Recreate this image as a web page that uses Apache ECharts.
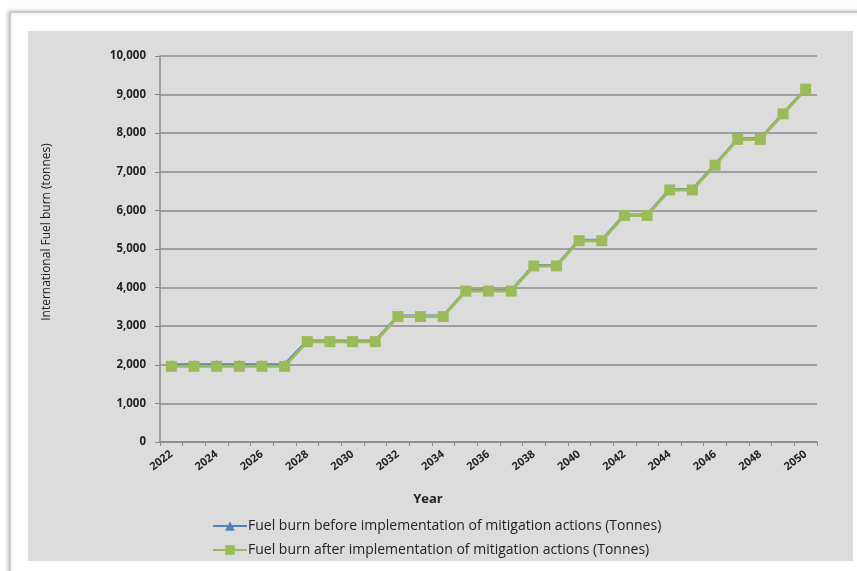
<!DOCTYPE html>
<html>
<head>
<meta charset="utf-8">
<script src="https://cdn.jsdelivr.net/npm/echarts@6/dist/echarts.min.js"></script>
<style>
  html, body { margin: 0; padding: 0; background: #ffffff; }
  #chart { width: 857px; height: 571px; }
</style>
</head>
<body>
<div id="chart"></div>
<script>
// Years on the category axis
const years = [
  '2022','2023','2024','2025','2026','2027','2028','2029','2030','2031',
  '2032','2033','2034','2035','2036','2037','2038','2039','2040','2041',
  '2042','2043','2044','2045','2046','2047','2048','2049','2050'
];

// Fuel burn (tonnes) before mitigation actions
const fuelBefore = [
  2010, 2010, 2010, 2010, 2010, 2010,
  2625, 2625, 2625, 2625,
  3270, 3270, 3270,
  3930, 3930, 3930,
  4580, 4580,
  5235, 5235,
  5890, 5890,
  6550, 6550,
  7190,
  7860, 7860,
  8515,
  9150
];

// Fuel burn (tonnes) after mitigation actions
const fuelAfter = [
  1960, 1960, 1960, 1960, 1960, 1960,
  2600, 2600, 2600, 2600,
  3250, 3250, 3250,
  3910, 3910, 3910,
  4560, 4560,
  5215, 5215,
  5870, 5870,
  6530, 6530,
  7170,
  7840, 7840,
  8500,
  9140
];

const seriesNames = [
  'Fuel burn before implementation of mitigation actions (Tonnes)',
  'Fuel burn after implementation of mitigation actions (Tonnes)'
];

const yTitle = 'International Fuel burn (tonnes)';
const xTitle = 'Year';

const FONT = '"Open Sans", "Noto Sans", sans-serif';
const LEGEND_FONT = '"Open Sans", "Noto Sans", sans-serif';

const chart = echarts.init(document.getElementById('chart'), null, { renderer: 'canvas' });

chart.setOption({
  backgroundColor: '#ffffff',
  animation: false,
  textStyle: { fontFamily: FONT },
  graphic: [
    {
      type: 'rect', z: -100, silent: true,
      shape: { x: 10, y: 12, width: 900, height: 620 },
      style: {
        fill: '#ffffff', stroke: '#c4c4c4', lineWidth: 1.5,
        shadowBlur: 4, shadowColor: 'rgba(0,0,0,0.25)', shadowOffsetX: -1, shadowOffsetY: 0
      }
    },
    {
      type: 'rect', z: -99, silent: true,
      shape: { x: 28, y: 31, width: 825, height: 530 },
      style: { fill: '#dcdcdc' }
    },
    {
      type: 'text', z: 10, silent: true,
      x: 47, y: 232, rotation: Math.PI / 2,
      style: {
        text: yTitle, fill: '#222', font: '12px ' + FONT,
        align: 'center', verticalAlign: 'middle'
      }
    },
    {
      type: 'text', z: 10, silent: true,
      x: 428, y: 499,
      style: {
        text: xTitle, fill: '#222', font: 'bold 13px ' + FONT,
        align: 'center', verticalAlign: 'middle'
      }
    }
  ],
  grid: { left: 160, right: 40, top: 56, bottom: 129, containLabel: false },
  legend: {
    orient: 'vertical',
    left: 207,
    top: 514,
    itemWidth: 34,
    itemHeight: 12,
    itemGap: 10,
    textStyle: { fontFamily: LEGEND_FONT, fontSize: 14, color: '#222', padding: [0, 0, 0, -4] },
    data: seriesNames
  },
  xAxis: {
    type: 'category',
    data: years,
    boundaryGap: true,
    axisLine: { lineStyle: { color: '#8a8a8a', width: 1.5 } },
    axisTick: { show: true, interval: 0, length: 4, lineStyle: { color: '#8a8a8a', width: 1 } },
    axisLabel: {
      interval: 1, rotate: 37, margin: 11,
      fontFamily: FONT, fontSize: 11, fontWeight: 'bold', color: '#222'
    },
    splitLine: { show: false }
  },
  yAxis: {
    type: 'value',
    min: 0, max: 10000, interval: 1000,
    axisLine: { show: true, lineStyle: { color: '#8a8a8a', width: 1.5 } },
    axisTick: { show: true, length: 5, lineStyle: { color: '#8a8a8a' } },
    axisLabel: {
      margin: 14, fontFamily: FONT, fontSize: 11.5, fontWeight: 'bold', color: '#222',
      formatter: v => v.toLocaleString('en-US')
    },
    splitLine: { show: true, lineStyle: { color: '#8c8c8c', width: 1.5 } }
  },
  series: [
    {
      name: seriesNames[0],
      type: 'line',
      data: fuelBefore,
      symbol: 'triangle',
      symbolSize: 9,
      itemStyle: { color: '#4f81bd' },
      lineStyle: { color: '#4f81bd', width: 2.5 },
      z: 2
    },
    {
      name: seriesNames[1],
      type: 'line',
      data: fuelAfter,
      symbol: 'rect',
      symbolSize: 11,
      itemStyle: { color: '#9bbb59' },
      lineStyle: { color: '#9bbb59', width: 3 },
      z: 3
    }
  ]
});
</script>
</body>
</html>
